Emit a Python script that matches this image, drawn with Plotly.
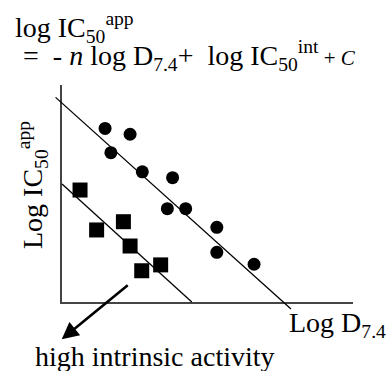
import plotly.graph_objects as go

# ---- data (arbitrary log units) ----
circle_logD = [1.48, 2.34, 1.68, 2.76, 3.80, 3.62, 4.25, 5.32, 5.32, 6.60]
circle_logIC = [8.00, 7.73, 6.88, 6.00, 5.73, 4.30, 4.30, 3.44, 2.29, 1.74]
square_logD = [0.62, 1.19, 2.11, 2.34, 2.74, 3.39]
square_logIC = [5.16, 3.32, 3.70, 2.58, 1.44, 1.71]
fit_upper_x = [-0.22, 7.87]
fit_upper_y = [9.43, -0.32]
fit_lower_x = [0.0, 4.46]
fit_lower_y = [5.44, 0.0]
arrow_tail = (2.31, 0.83)
arrow_tip = (-0.01, -1.72)

W, H = 387, 371
X_RANGE = [0, 10]
Y_RANGE = [0, 10]
# plot box in pixels
PX_L, PX_R, PX_T, PX_B = 62, 353, 85, 302

xdom = [PX_L / W, PX_R / W]
ydom = [(H - PX_B) / H, (H - PX_T) / H]
xs = (X_RANGE[1] - X_RANGE[0]) / (PX_R - PX_L)
ys = (Y_RANGE[1] - Y_RANGE[0]) / (PX_B - PX_T)
x2range = [X_RANGE[0] - PX_L * xs, X_RANGE[1] + (W - PX_R) * xs]
y2range = [Y_RANGE[0] - (H - PX_B) * ys, Y_RANGE[1] + PX_T * ys]

FONT = "Liberation Serif, Times New Roman, serif"

fig = go.Figure()
fig.add_trace(go.Scatter(x=fit_upper_x, y=fit_upper_y, mode="lines",
                         line=dict(color="black", width=1.3),
                         xaxis="x2", yaxis="y2", showlegend=False))
fig.add_trace(go.Scatter(x=fit_lower_x, y=fit_lower_y, mode="lines",
                         line=dict(color="black", width=1.3),
                         xaxis="x2", yaxis="y2", showlegend=False))
fig.add_trace(go.Scatter(x=circle_logD, y=circle_logIC, mode="markers",
                         marker=dict(symbol="circle", size=13, color="black"),
                         cliponaxis=False, showlegend=False))
fig.add_trace(go.Scatter(x=square_logD, y=square_logIC, mode="markers",
                         marker=dict(symbol="square", size=15, color="black"),
                         cliponaxis=False, showlegend=False))

annos = [
    dict(text="log IC<sub>50</sub><sup>app</sup>", x=13 / W, y=1 - 27 / H,
         xanchor="left", yanchor="middle"),
    dict(text="\u00a0=\u00a0\u00a0- <i>n</i> log D<sub>7.4</sub>+\u00a0\u00a0log IC<sub>50</sub>"
              "<sup>int</sup><span style='font-size:21px'>\u00a0+ <i>C</i></span>",
         x=14 / W, y=1 - 56 / H, xanchor="left", yanchor="middle"),
    dict(text="Log IC<sub>50</sub><sup>app</sup>", x=33 / W, y=1 - 185 / H,
         xanchor="center", yanchor="middle", textangle=-90),
    dict(text="Log D<sub>7.4</sub>", x=287 / W, y=1 - 324 / H,
         xanchor="left", yanchor="middle"),
    dict(text="high intrinsic activity", x=155 / W, y=1 - 356 / H,
         xanchor="center", yanchor="middle"),
]
for a in annos:
    a.update(xref="paper", yref="paper", showarrow=False,
             font=dict(family=FONT, size=28, color="black"))
    fig.add_annotation(**a)

fig.add_annotation(x=arrow_tip[0], y=arrow_tip[1], ax=arrow_tail[0], ay=arrow_tail[1],
                   xref="x", yref="y", axref="x", ayref="y", text="",
                   showarrow=True, arrowhead=2, arrowsize=1.3, arrowwidth=2.6,
                   arrowcolor="black")

fig.update_layout(
    width=W, height=H, autosize=False,
    margin=dict(l=0, r=0, t=0, b=0),
    paper_bgcolor="white", plot_bgcolor="rgba(0,0,0,0)",
    xaxis=dict(domain=xdom, range=X_RANGE, showline=True, linecolor="#444",
               linewidth=1.6, showgrid=False, zeroline=False, showticklabels=False,
               ticks=""),
    yaxis=dict(domain=ydom, range=Y_RANGE, showline=True, linecolor="#444",
               linewidth=1.6, showgrid=False, zeroline=False, showticklabels=False,
               ticks=""),
    xaxis2=dict(domain=[0, 1], range=x2range, visible=False, anchor="y2"),
    yaxis2=dict(domain=[0, 1], range=y2range, visible=False, anchor="x2"),
)

fig.write_html("out.html")
